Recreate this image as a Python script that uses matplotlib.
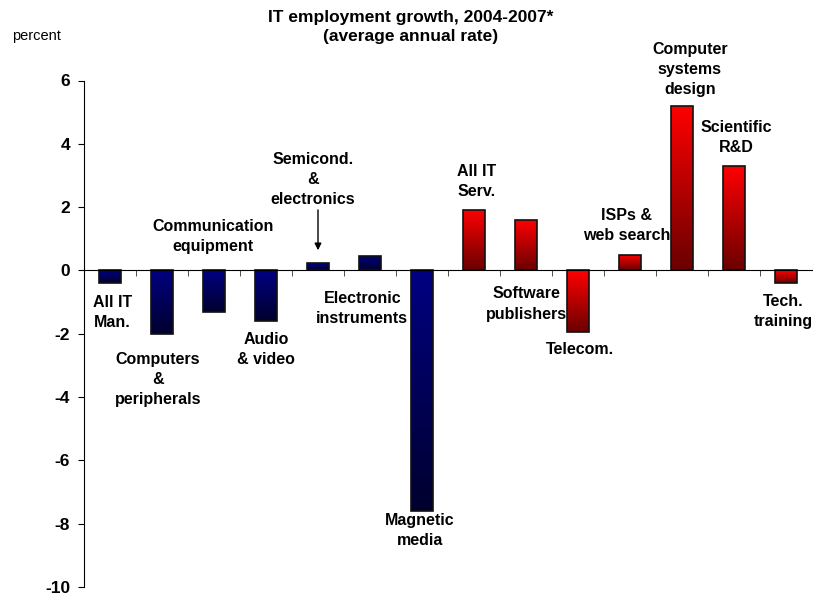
import numpy as np
import matplotlib
matplotlib.use("Agg")
import matplotlib.pyplot as plt
from matplotlib.colors import LinearSegmentedColormap

# data
categories = [
    "All IT\nMan.", "Computers\n&\nperipherals", "Communication\nequipment",
    "Audio\n& video", "Semicond.\n&\nelectronics", "Electronic\ninstruments",
    "Magnetic\nmedia", "All IT\nServ.", "Software\npublishers", "Telecom.",
    "ISPs &\nweb search", "Computer\nsystems\ndesign", "Scientific\nR&D",
    "Tech.\ntraining",
]
growth = [-0.4, -2.0, -1.3, -1.6, 0.22, 0.45, -7.6, 1.9, 1.6, -1.95, 0.5, 5.2, 3.3, -0.4]
sector = ["man"] * 7 + ["serv"] * 7
yticks = [6, 4, 2, 0, -2, -4, -6, -8, -10]

# label placement (data coords: x, y)
label_pos = [
    (0.04, -1.33), (0.92, -3.45), (1.98, 1.07), (3.0, -2.5), (3.9, 2.87),
    (4.85, -1.2), (5.96, -8.23), (7.04, 2.81), (8.0, -1.06), (9.04, -2.5),
    (9.94, 1.42), (11.15, 6.36), (12.04, 4.2), (12.94, -1.3),
]

cmaps = {
    "man": LinearSegmentedColormap.from_list("blu", ["#00002e", "#000082"]),
    "serv": LinearSegmentedColormap.from_list("red", ["#6a0000", "#ff0000"]),
}

fig = plt.figure(figsize=(8.13, 5.97), dpi=100)
ax = fig.add_axes([84 / 813, 1 - 587 / 597, 728 / 813, (587 - 80.5) / 597])

x = np.arange(len(growth))
bars = ax.bar(x, growth, width=0.42, facecolor="none", edgecolor="#111111",
              linewidth=1.2, zorder=3)

grad = np.linspace(0, 1, 256).reshape(-1, 1)
for bar, sec in zip(bars, sector):
    x0, y0 = bar.get_x(), min(bar.get_y(), bar.get_y() + bar.get_height())
    h = abs(bar.get_height())
    im = ax.imshow(grad, cmap=cmaps[sec], origin="lower", aspect="auto",
                   extent=[x0, x0 + bar.get_width(), y0, y0 + h], zorder=2)
    im.set_clip_path(bar)

for name, (lx, ly) in zip(categories, label_pos):
    ax.text(lx, ly, name, ha="center", va="center", fontsize=11.5,
            fontweight="bold", family="Liberation Sans", linespacing=1.42,
            zorder=4)

# arrow to the small semiconductor bar
ax.annotate("", xy=(4.0, 0.55), xytext=(4.0, 2.0),
            arrowprops=dict(arrowstyle="-|>", color="black", lw=1.0,
                            mutation_scale=10))

ax.set_xlim(-0.5, len(growth) - 0.5)
ax.set_ylim(-10, 6)
ax.set_yticks(yticks)
ax.set_yticklabels([str(t) for t in yticks], fontsize=12.5, fontweight="bold",
                   family="Liberation Sans")
ax.set_xticks([])
ax.set_xticks(np.arange(len(growth) - 1) + 0.5, minor=True)
ax.tick_params(axis="x", which="minor", direction="out", length=4, color="#333333")
ax.tick_params(axis="y", direction="out", length=4, pad=6)

ax.spines["top"].set_visible(False)
ax.spines["right"].set_visible(False)
ax.spines["bottom"].set_position(("data", 0))
ax.spines["bottom"].set_zorder(5)

fig.text(411 / 813, 1 - 27 / 597, "IT employment growth, 2004-2007*\n(average annual rate)",
         ha="center", va="center", fontsize=12.5, fontweight="bold",
         family="Liberation Sans", linespacing=1.4)
fig.text(12 / 813, 1 - 36 / 597, "percent", ha="left", va="center",
         fontsize=10.5, family="Liberation Sans")

fig.savefig("out.png", dpi=100)
